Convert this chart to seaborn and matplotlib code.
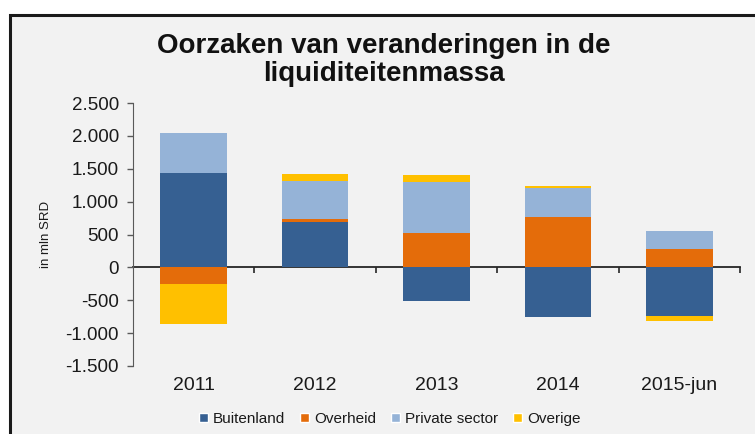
import numpy as np
import pandas as pd
import matplotlib.pyplot as plt
import seaborn as sns
from matplotlib.patches import Patch, Rectangle

# data (mln SRD)
years = ["2011", "2012", "2013", "2014", "2015-jun"]
series = ["Buitenland", "Overheid", "Private sector", "Overige"]
buitenland = [1440, 690, -505, -750, -740]
overheid = [-255, 50, 530, 770, 275]
private_sector = [600, 575, 765, 430, 285]
overige = [-605, 110, 115, 45, -75]
colors = ["#366092", "#E46C0A", "#95B3D7", "#FFC000"]
yticks = [-1500, -1000, -500, 0, 500, 1000, 1500, 2000, 2500]
ytick_labels = ["-1.500", "-1.000", "-500", "0", "500", "1.000", "1.500", "2.000", "2.500"]

vals = np.array([buitenland, overheid, private_sector, overige], dtype=float)
# stack positives upwards and negatives downwards (like excel)
poscum = np.cumsum(np.clip(vals, 0, None), axis=0)
negcum = np.cumsum(np.clip(vals, None, 0), axis=0)
extent = np.where(vals > 0, poscum, negcum)

rows = []
for i, s in enumerate(series):
    for j, y in enumerate(years):
        rows.append({"reeks": s, "jaar": y, "waarde": vals[i, j], "extent": extent[i, j]})
df = pd.DataFrame(rows)

sns.set_style("white")
plt.rcParams["font.family"] = ["Liberation Sans", "DejaVu Sans"]

fig = plt.figure(figsize=(7.55, 4.34), dpi=100, facecolor="white")
# grey chart area with dark frame (cut off at right/bottom)
fig.patches.append(Rectangle((10 / 755, -0.05), 1.0, 1 - 15 / 434 + 0.05,
                             transform=fig.transFigure, facecolor="#F2F2F2",
                             edgecolor="#1a1a1a", linewidth=2.2, zorder=-5))

ax = fig.add_axes([133 / 755, 1 - 366 / 434, (740 - 133) / 755, (366 - 103) / 434])
ax.set_facecolor("none")

# draw outermost segment first so inner ones paint over it
for i in reversed(range(len(series))):
    sub = df[df["reeks"] == series[i]]
    sns.barplot(data=sub, x="jaar", y="extent", order=years, color=colors[i],
                width=0.55, saturation=1, ax=ax, linewidth=0)

ymin, ymax = -1500, 2500
ax.set_ylim(ymin, ymax)
ax.set_xlim(-0.5, len(years) - 0.5)
ax.set_yticks(yticks)
ax.set_yticklabels(ytick_labels)
ax.tick_params(axis="y", direction="out", length=4, width=1, color="#595959",
               labelsize=13.5, pad=6, left=True, labelcolor="#1a1a1a")
ax.tick_params(axis="x", length=0, labelsize=14, pad=8, labelcolor="#1a1a1a")
ax.set_xlabel("")
ax.set_ylabel("in mln SRD", fontsize=9.5, labelpad=10, color="#1a1a1a")
for side in ["top", "right", "bottom"]:
    ax.spines[side].set_visible(False)
ax.spines["left"].set_color("#595959")

# zero line with category boundary ticks
zero_at = (0 - ymin) / (ymax - ymin)
sec = ax.secondary_xaxis(zero_at)
sec.set_xticks(np.arange(len(years)) + 0.5)
sec.tick_params(direction="out", length=4, width=1.2, color="#262626", labelbottom=False)
sec.spines["bottom"].set_color("#262626")
sec.spines["bottom"].set_linewidth(1.3)

fig.suptitle("Oorzaken van veranderingen in de\nliquiditeitenmassa", x=0.508, y=0.925,
             fontsize=20, fontweight="bold", linespacing=1.1, color="#111111")

handles = [Patch(facecolor=c, label=s) for c, s in zip(colors, series)]
fig.legend(handles=handles, loc="center", bbox_to_anchor=(0.516, 0.035), ncol=4,
           frameon=False, fontsize=11, handlelength=0.6, handleheight=0.6,
           handletextpad=0.3, columnspacing=1.0, labelcolor="#1a1a1a")

fig.savefig("out.png", dpi=100, facecolor="white")
